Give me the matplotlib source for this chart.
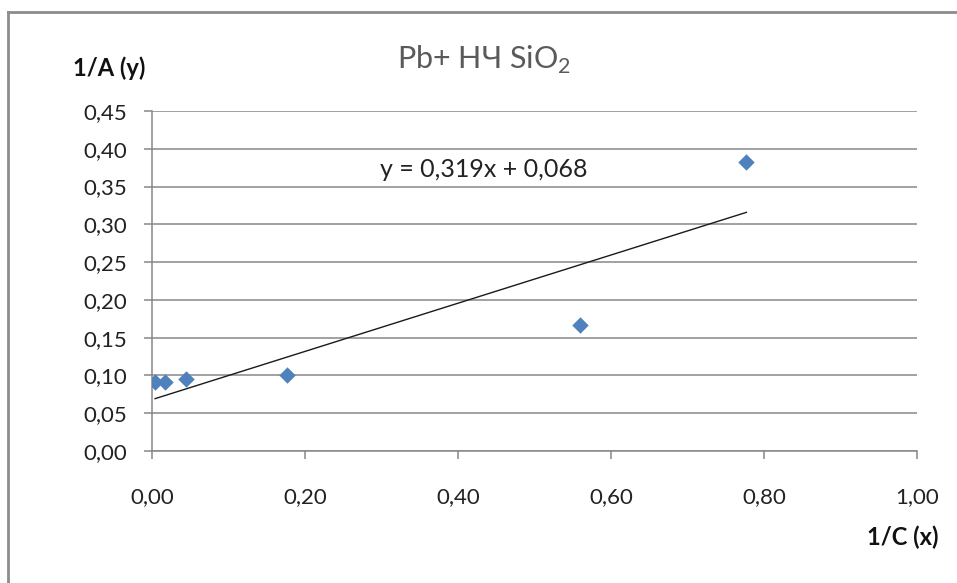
import numpy as np
import matplotlib.pyplot as plt
from matplotlib.lines import Line2D
from matplotlib.ticker import FuncFormatter

plt.rcParams['font.family'] = ['Lato', 'Open Sans', 'DejaVu Sans']

# 1/C and 1/A values
inv_c = [0.004, 0.017, 0.045, 0.177, 0.560, 0.777]
inv_a = [0.091, 0.091, 0.095, 0.100, 0.167, 0.382]

# linear trend y = k*x + b
k = 0.319
b = 0.068

fig = plt.figure(figsize=(9.57, 5.83), dpi=100)
ax = fig.add_axes([152 / 957, 1 - 451 / 583, (917 - 152) / 957, (451 - 111) / 583])

grid_c = '#878787'
ax.set_xlim(0, 1.0)
ax.set_ylim(0, 0.45)
ax.set_xticks(np.arange(0, 1.01, 0.2))
ax.set_yticks(np.arange(0, 0.451, 0.05))
ax.yaxis.grid(True, color=grid_c, linewidth=1.1)
ax.set_axisbelow(True)

for s in ['top', 'right']:
    ax.spines[s].set_visible(False)
for s in ['left', 'bottom']:
    ax.spines[s].set_color(grid_c)
    ax.spines[s].set_linewidth(1.1)

fmt = FuncFormatter(lambda v, _: f'{v:.2f}'.replace('.', ','))
ax.xaxis.set_major_formatter(fmt)
ax.yaxis.set_major_formatter(fmt)
ax.tick_params(axis='both', colors=grid_c, labelcolor='#222222', labelsize=16,
               length=6, width=1.1)
ax.tick_params(axis='x', pad=20)
ax.tick_params(axis='y', pad=12)

ax.scatter(inv_c, inv_a, marker='D', s=70, color='#4F81BD', zorder=3, linewidths=0)

xs = np.array([min(inv_c), max(inv_c)])
ax.plot(xs, k * xs + b, color='#1a1a1a', linewidth=1.0, zorder=2)

eq = f'y = {k:.3f}x + {b:.3f}'.replace('.', ',')
fig.text(380 / 957, 1 - 177 / 583, eq, fontsize=18, color='#222222',
         ha='left', va='baseline')

fig.text(484 / 957, 1 - 69 / 583, 'Pb+ НЧ SiO$_\\mathregular{2}$', fontsize=22,
         color='#5a5a5a', ha='center', va='baseline')
fig.text(109 / 957, 1 - 68 / 583, '1/A (y)', fontsize=17, fontweight='bold',
         color='#111111', ha='center', va='center')
fig.text(903 / 957, 1 - 537 / 583, '1/C (x)', fontsize=17, fontweight='bold',
         color='#111111', ha='center', va='center')

# chart frame
frame_c = '#8c8c8c'
fig.add_artist(Line2D([8 / 957, 1], [1 - 12 / 583] * 2, color=frame_c, linewidth=2,
                      transform=fig.transFigure))
fig.add_artist(Line2D([8 / 957] * 2, [0, 1 - 12 / 583], color=frame_c, linewidth=2,
                      transform=fig.transFigure))

fig.savefig('out.png', dpi=100)
